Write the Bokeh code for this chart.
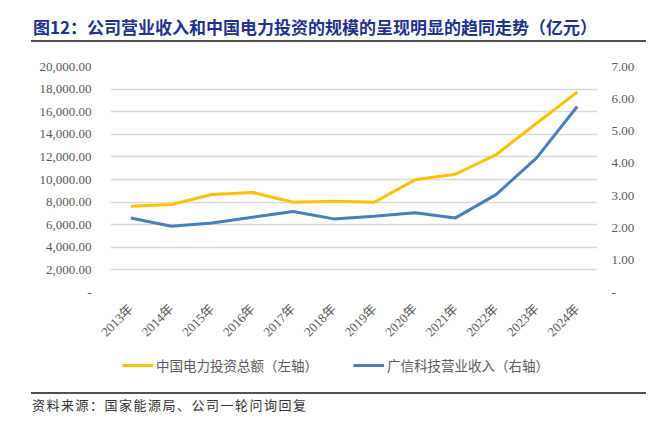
from math import pi
from bokeh.plotting import figure
from bokeh.layouts import column
from bokeh.models import (Range1d, FactorRange, LinearAxis, FixedTicker, CustomJSTickFormatter,
                          Legend, LegendItem, Div)
from bokeh.embed import file_html
from bokeh.resources import INLINE

years = ["2013年", "2014年", "2015年", "2016年", "2017年", "2018年",
         "2019年", "2020年", "2021年", "2022年", "2023年", "2024年"]
power_investment = [7640, 7790, 8670, 8850, 7990, 8080, 7990, 9970, 10470, 12190, 14980, 17730]
revenue = [2.31, 2.05, 2.15, 2.33, 2.51, 2.28, 2.36, 2.47, 2.31, 3.03, 4.17, 5.76]
left_ticks = [0, 2000, 4000, 6000, 8000, 10000, 12000, 14000, 16000, 18000, 20000]
right_ticks = [0, 1, 2, 3, 4, 5, 6, 7]
series_names = ["中国电力投资总额（左轴）", "广信科技营业收入（右轴）"]
title_text = "图12：公司营业收入和中国电力投资的规模的呈现明显的趋同走势（亿元）"
source_text = "资料来源：国家能源局、公司一轮问询回复"

YELLOW = "#FFC000"
BLUE = "#4A7EBB"
GRAY = "#595959"
SERIF = "'Liberation Serif', 'Noto Sans CJK SC'"

header = Div(text=title_text, width=615, height=42, margin=(0, 0, 0, 31),
             styles={"font-family": "'Noto Sans CJK SC'", "font-weight": "bold",
                     "font-size": "17px", "color": "#22318A",
                     "border-bottom": "2px solid #505050", "box-sizing": "border-box",
                     "padding-left": "2px", "padding-top": "17px", "line-height": "20px",
                     "white-space": "nowrap"})

p = figure(width=654, height=306, x_range=FactorRange(*years), y_range=Range1d(0, 20000),
           output_backend="svg", toolbar_location=None,
           min_border_left=110, min_border_right=57, min_border_top=24, min_border_bottom=56,
           outline_line_color=None)

p.xgrid.visible = False
p.ygrid.ticker = FixedTicker(ticks=left_ticks)
p.ygrid.grid_line_color = "#d9d9d9"
p.ygrid.grid_line_width = 1.5

fmt_code = """
if (tick == 0) { return '-'; }
return tick.toLocaleString('en-US', {minimumFractionDigits: 2, maximumFractionDigits: 2});
"""

yax = p.yaxis[0]
yax.ticker = FixedTicker(ticks=left_ticks)
yax.formatter = CustomJSTickFormatter(code=fmt_code)
yax.axis_line_color = None
yax.major_tick_line_color = None
yax.minor_tick_line_color = None
yax.major_label_standoff = 13
yax.major_label_text_font = SERIF
yax.major_label_text_font_size = "13px"
yax.major_label_text_color = GRAY

p.extra_y_ranges = {"rev": Range1d(0, 7)}
rax = LinearAxis(y_range_name="rev", ticker=FixedTicker(ticks=right_ticks),
                 formatter=CustomJSTickFormatter(code=fmt_code))
rax.axis_line_color = None
rax.major_tick_line_color = None
rax.minor_tick_line_color = None
rax.major_label_standoff = 8
rax.major_label_text_font = SERIF
rax.major_label_text_font_size = "13px"
rax.major_label_text_color = GRAY
p.add_layout(rax, "right")

xax = p.xaxis[0]
xax.axis_line_color = None
xax.major_tick_line_color = None
xax.minor_tick_line_color = None
xax.major_label_orientation = pi / 4
xax.major_label_standoff = 8
xax.major_label_text_font = SERIF
xax.major_label_text_font_size = "13px"
xax.major_label_text_color = GRAY

p.line(years, power_investment, line_color=YELLOW, line_width=3)
p.line(years, revenue, y_range_name="rev", line_color=BLUE, line_width=3)

# legend strip: same series, drawn outside its (empty) view so only the legend shows
lg = figure(width=654, height=44, x_range=FactorRange(*years), y_range=Range1d(-2, -1),
            output_backend="svg", toolbar_location=None,
            x_axis_location=None, y_axis_location=None,
            min_border_left=110, min_border_right=57, min_border_top=0, min_border_bottom=0,
            outline_line_color=None)
lg.grid.visible = False
s1 = lg.line(years, power_investment, line_color=YELLOW, line_width=3)
s2 = lg.line(years, revenue, line_color=BLUE, line_width=3)
legend = Legend(items=[LegendItem(label=series_names[0], renderers=[s1]),
                       LegendItem(label=series_names[1], renderers=[s2])],
                orientation="horizontal", location=(12, 17),
                border_line_color=None, background_fill_alpha=0,
                padding=0, margin=0, spacing=35, label_standoff=3,
                glyph_width=31, glyph_height=16, label_height=16,
                label_text_font="Noto Sans CJK SC", label_text_font_size="13.5px",
                label_text_color=GRAY)
lg.add_layout(legend, "center")

footer = Div(text=source_text, width=615, height=30, margin=(0, 0, 0, 31),
             styles={"font-family": "'Noto Sans CJK SC'",
                     "font-size": "13px", "color": "#333333", "letter-spacing": "1.5px",
                     "border-top": "2px solid #505050", "box-sizing": "border-box",
                     "padding-left": "1px", "padding-top": "2px", "line-height": "18px",
                     "white-space": "nowrap"})

layout = column(header, p, lg, footer)
open("out.html", "w").write(file_html(layout, INLINE))
